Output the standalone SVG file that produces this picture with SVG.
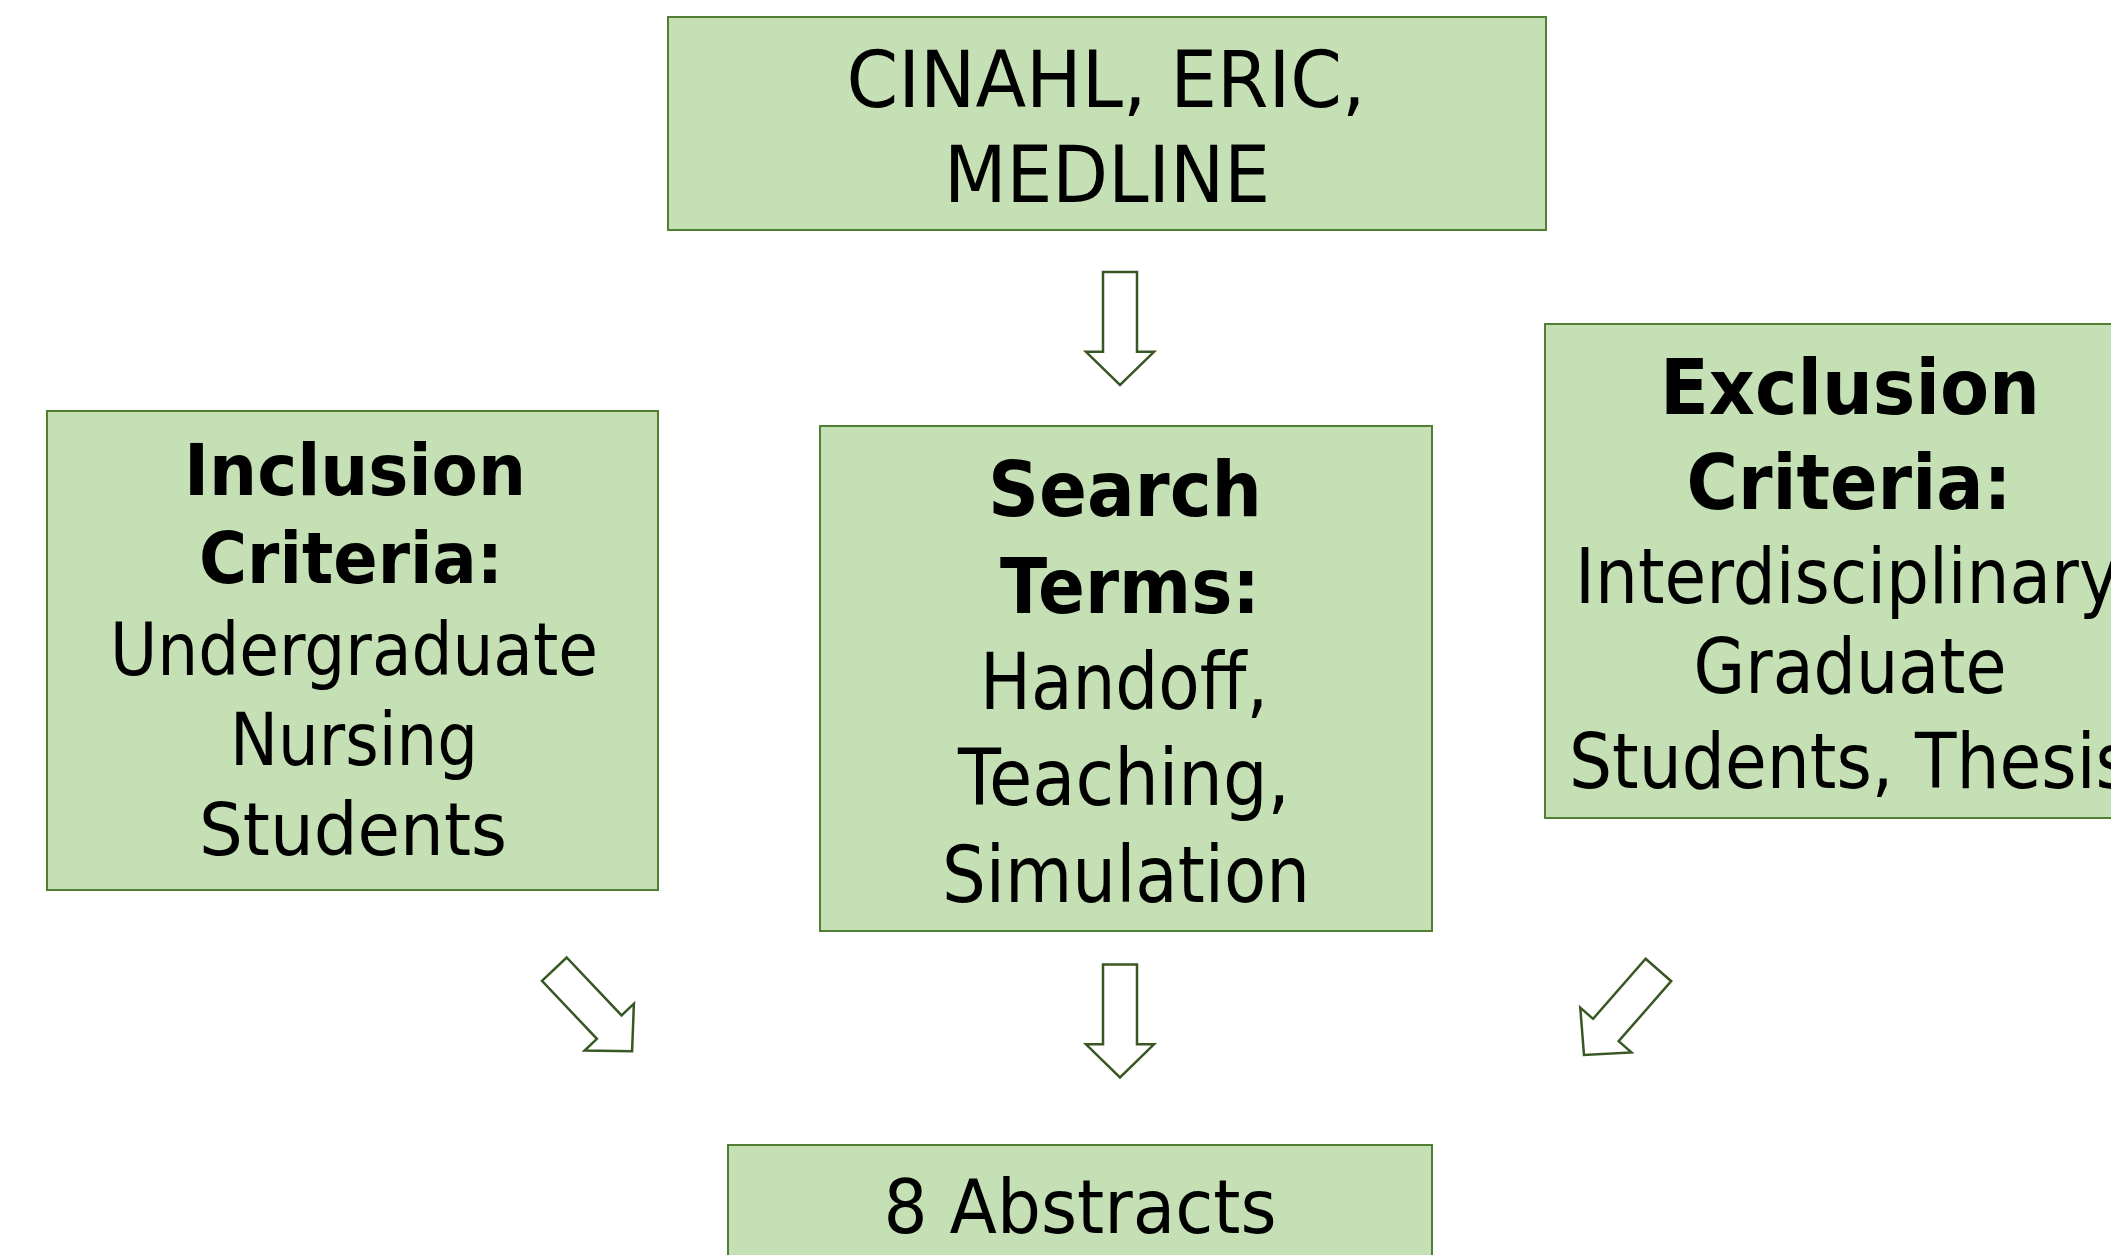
<svg xmlns="http://www.w3.org/2000/svg" width="2111" height="1255" viewBox="0 0 2111 1255">
<style>
.box{fill:#c5e0b4;stroke:#507e32;stroke-width:2}
.t{font-family:"DejaVu Sans","Verdana",sans-serif;fill:#000;text-anchor:middle}
.b{font-weight:bold}
.arrow{fill:#ffffff;stroke:#385723;stroke-width:2.5;stroke-linejoin:miter}
</style>
<defs>
<path id="blockArrow" d="M-17,-56.5 L17,-56.5 L17,23.3 L34,23.3 L0,56.5 L-34,23.3 L-17,23.3 Z"/>
</defs>
<rect width="2111" height="1255" fill="#ffffff"/>

<g id="connectors">
<use href="#blockArrow" class="arrow" transform="translate(1120,328.5)"/>
<use href="#blockArrow" class="arrow" transform="translate(593.2,1010.2) rotate(-43.5)"/>
<use href="#blockArrow" class="arrow" transform="translate(1120,1021)"/>
<use href="#blockArrow" class="arrow" transform="translate(1621.2,1012.5) rotate(41.2)"/>
</g>

<g id="node-databases">
<rect class="box" x="668" y="17" width="878" height="213"/>
<text class="t" font-size="78" x="1106" y="107" textLength="519" lengthAdjust="spacingAndGlyphs">CINAHL, ERIC,</text>
<text class="t" font-size="78" x="1107" y="202" textLength="326" lengthAdjust="spacingAndGlyphs">MEDLINE</text>
</g>

<g id="node-inclusion">
<rect class="box" x="47" y="411" width="611" height="479"/>
<text class="t b" font-size="72" x="355" y="495" textLength="342" lengthAdjust="spacingAndGlyphs">Inclusion</text>
<text class="t b" font-size="72" x="351" y="583" textLength="304" lengthAdjust="spacingAndGlyphs">Criteria:</text>
<text class="t" font-size="73" x="354" y="675" textLength="488" lengthAdjust="spacingAndGlyphs">Undergraduate</text>
<text class="t" font-size="73" x="354" y="765" textLength="248" lengthAdjust="spacingAndGlyphs">Nursing</text>
<text class="t" font-size="73" x="353" y="855" textLength="308" lengthAdjust="spacingAndGlyphs">Students</text>
</g>

<g id="node-search">
<rect class="box" x="820" y="426" width="612" height="505"/>
<text class="t b" font-size="77" x="1125" y="516" textLength="274" lengthAdjust="spacingAndGlyphs">Search</text>
<text class="t b" font-size="77" x="1130" y="613" textLength="260" lengthAdjust="spacingAndGlyphs">Terms:</text>
<text class="t" font-size="79" x="1124" y="709" textLength="288" lengthAdjust="spacingAndGlyphs">Handoff,</text>
<text class="t" font-size="79" x="1124" y="805" textLength="332" lengthAdjust="spacingAndGlyphs">Teaching,</text>
<text class="t" font-size="79" x="1126" y="902" textLength="368" lengthAdjust="spacingAndGlyphs">Simulation</text>
</g>

<g id="node-exclusion">
<rect class="box" x="1545" y="324" width="611" height="494"/>
<text class="t b" font-size="77" x="1850" y="414" textLength="380" lengthAdjust="spacingAndGlyphs">Exclusion</text>
<text class="t b" font-size="77" x="1849" y="509" textLength="325" lengthAdjust="spacingAndGlyphs">Criteria:</text>
<text class="t" font-size="77" x="1847" y="603" textLength="544" lengthAdjust="spacingAndGlyphs">Interdisciplinary</text>
<text class="t" font-size="77" x="1850" y="693" textLength="313" lengthAdjust="spacingAndGlyphs">Graduate</text>
<text class="t" font-size="77" x="1850" y="788" textLength="562" lengthAdjust="spacingAndGlyphs">Students, Thesis</text>
</g>

<g id="node-abstracts">
<rect class="box" x="728" y="1145" width="704" height="200"/>
<text class="t" font-size="75" x="1080" y="1233" textLength="393" lengthAdjust="spacingAndGlyphs">8 Abstracts</text>
</g>
</svg>
